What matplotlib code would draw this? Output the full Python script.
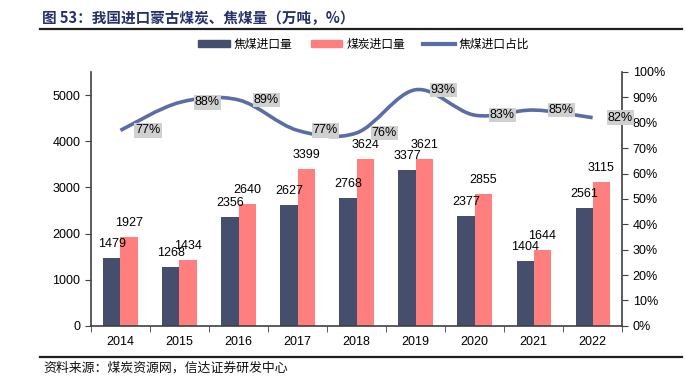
import matplotlib
matplotlib.use("Agg")
import matplotlib.pyplot as plt
import numpy as np
from matplotlib.path import Path
from matplotlib.patches import PathPatch
from matplotlib.lines import Line2D
from matplotlib.patches import Patch

plt.rcParams["font.family"] = ["Liberation Sans", "Noto Sans CJK SC", "DejaVu Sans"]

years = ["2014", "2015", "2016", "2017", "2018", "2019", "2020", "2021", "2022"]
coking_coal = [1479, 1268, 2356, 2627, 2768, 3377, 2377, 1404, 2561]
all_coal = [1927, 1434, 2640, 3399, 3624, 3621, 2855, 1644, 3115]
coking_share = [77, 88, 89, 77, 76, 93, 83, 85, 82]

navy = "#454E6C"
pink = "#FF7F7F"
line_blue = "#5A6DA6"
cjk = ["Noto Sans CJK SC", "DejaVu Sans"]


def smooth_path(xs, ys):
    # Catmull-Rom style bezier, like Excel's "smoothed line"
    pts = np.column_stack([xs, ys]).astype(float)
    ext = np.vstack([pts[0], pts, pts[-1]])
    verts = [pts[0]]
    codes = [Path.MOVETO]
    for i in range(1, len(ext) - 2):
        p0, p1, p2, p3 = ext[i - 1], ext[i], ext[i + 1], ext[i + 2]
        verts += [p1 + (p2 - p0) / 6, p2 - (p3 - p1) / 6, p2]
        codes += [Path.CURVE4] * 3
    return Path(verts, codes)


fig = plt.figure(figsize=(6.89, 3.87), dpi=100)
ax = fig.add_axes([0.132, 0.158, 0.771, 0.656])
ax2 = ax.twinx()

x = np.arange(len(years))
w = 0.29
ax.bar(x - w / 2, coking_coal, w, color=navy, zorder=2)
ax.bar(x + w / 2, all_coal, w, color=pink, zorder=2)
for xi, v in zip(x - w / 2, coking_coal):
    ax.annotate(str(v), (xi, v), xytext=(0, 10), textcoords="offset points",
                ha="center", va="center", fontsize=9)
for xi, v in zip(x + w / 2, all_coal):
    ax.annotate(str(v), (xi, v), xytext=(0, 10), textcoords="offset points",
                ha="center", va="center", fontsize=9)

ax.set_xlim(-0.5, len(years) - 0.5)
ax.set_ylim(0, 5500)
ax.set_yticks(range(0, 5001, 1000))
ax.set_xticks(x)
ax.set_xticklabels(years, fontsize=9)
ax.set_xticks(np.arange(-0.5, len(years), 1), minor=True)
ax.tick_params(axis="x", which="major", length=0, pad=7)
ax.tick_params(axis="x", which="minor", length=4, direction="out", color="#404040")
ax.tick_params(axis="y", labelsize=9, length=4, color="#404040")

ax2.set_ylim(0, 100)
ax2.set_yticks(range(0, 101, 10))
ax2.set_yticklabels([f"{t}%" for t in range(0, 101, 10)], fontsize=9)
ax2.tick_params(axis="y", length=4, color="#404040")
ax2.add_patch(PathPatch(smooth_path(x, coking_share), facecolor="none",
                        edgecolor=line_blue, lw=2.6, zorder=3))
for xi, v in zip(x, coking_share):
    ax2.annotate(f"{v}%", (xi, v), xytext=(11, 0), textcoords="offset points",
                 ha="left", va="center", fontsize=9, zorder=4,
                 bbox=dict(boxstyle="square,pad=0.1", fc="#D0D0D0", ec="none"))

for a in (ax, ax2):
    a.spines["top"].set_visible(False)
    for s in ("left", "right", "bottom"):
        a.spines[s].set_color("#404040")
        a.spines[s].set_linewidth(1.2)
ax.spines["right"].set_visible(False)
ax2.spines["left"].set_visible(False)
ax2.spines["bottom"].set_visible(False)

handles = [Patch(color=navy), Patch(color=pink), Line2D([], [], color=line_blue, lw=3)]
fig.legend(handles, ["焦煤进口量", "煤炭进口量", "焦煤进口占比"], loc="center",
           bbox_to_anchor=(0.528, 0.885), ncol=3, frameon=False,
           prop={"family": cjk, "size": 8.5}, handlelength=2.7, handleheight=0.5,
           columnspacing=1.5, handletextpad=0.35)

fig.text(0.061, 0.975, "图 53：我国进口蒙古煤炭、焦煤量（万吨，%）", family=cjk,
         fontsize=10.5, fontweight="bold", color="#26306A", va="top")
fig.add_artist(Line2D([0.058, 0.99], [0.925, 0.925], color="#202020", lw=1.6))
fig.add_artist(Line2D([0.058, 0.99], [0.077, 0.077], color="#202020", lw=1.6))
fig.text(0.063, 0.05, "资料来源：煤炭资源网，信达证券研发中心", family=cjk,
         fontsize=9.3, color="#111111", va="center")

fig.savefig("out.png", dpi=100)
